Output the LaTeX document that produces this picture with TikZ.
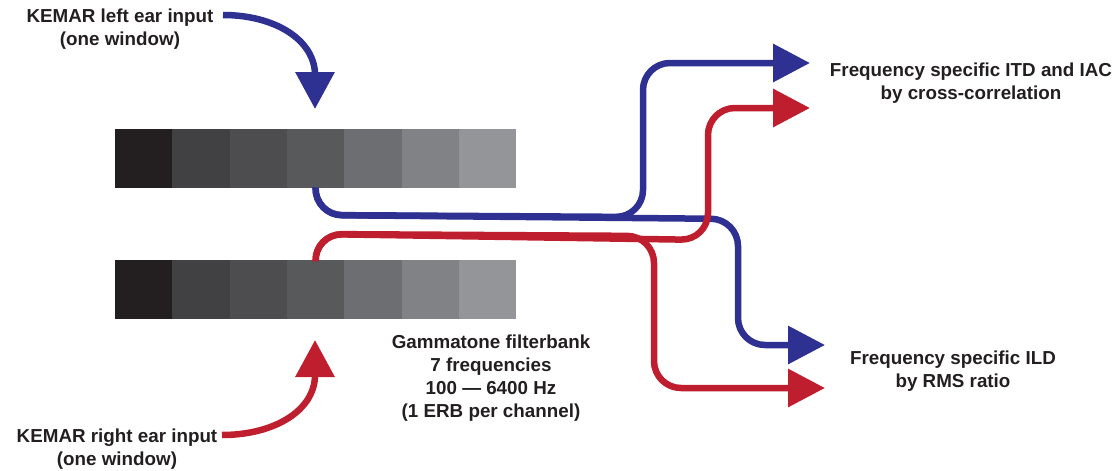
\documentclass[tikz,border=0pt]{standalone}
\usepackage{fontspec}
\setmainfont{Liberation Sans}
\usetikzlibrary{arrows.meta}
\definecolor{kblue}{HTML}{2E3192}
\definecolor{kred}{HTML}{BE1E2D}
\definecolor{ktext}{HTML}{231F20}
\definecolor{g1}{HTML}{231F20}
\definecolor{g2}{HTML}{414042}
\definecolor{g3}{HTML}{4D4D4F}
\definecolor{g4}{HTML}{58595B}
\definecolor{g5}{HTML}{6D6E71}
\definecolor{g6}{HTML}{808285}
\definecolor{g7}{HTML}{939598}
\begin{document}
\begin{tikzpicture}[x=1pt,y=-1pt,
  lbl/.style={font=\fontsize{18.8}{23}\selectfont\bfseries, text=ktext, align=center, inner sep=0pt},
  cell/.style={minimum width=57.4pt, minimum height=58.5pt, inner sep=0pt, outer sep=0pt, draw=none, anchor=north west},
  flow/.style={line width=6.5pt, rounded corners=27pt, -{Triangle[length=37pt,width=37pt]}},
  inarrow/.style={line width=6.5pt, -{Triangle[length=37pt,width=38pt]}}]
\useasboundingbox (0,0) rectangle (1119,471);

% filterbank bars
\foreach \i in {1,...,7}{
  \node[cell, fill=g\i] (L\i) at ({115+57.3*(\i-1)},129) {};
  \node[cell, fill=g\i] (R\i) at ({115+57.3*(\i-1)},260) {};
}

% labels
\node[lbl] (kemarL) at (120,29) {KEMAR left ear input\\(one window)};
\node[lbl] (kemarR) at (117,449) {KEMAR right ear input\\(one window)};
\node[lbl] (gamma) at (491,378) {Gammatone filterbank\\7 frequencies\\100 — 6400 Hz\\(1 ERB per channel)};
\node[lbl] (itd) at (971,83) {Frequency specific ITD and IAC\\by cross-correlation};
\node[lbl] (ild) at (953,371) {Frequency specific ILD\\by RMS ratio};

% input arrows
\coordinate (inLs) at (223,15);
\coordinate (inLt) at (315,109);
\coordinate (inRs) at (222,435);
\coordinate (inRt) at (315,340);
\draw[inarrow, color=kblue] (inLs) .. controls (275,15) and (315,40) .. (315,75) -- (inLt);
\draw[inarrow, color=kred] (inRs) .. controls (275,435) and (315,410) .. (315,375) -- (inRt);

% output arrow tips
\coordinate (tipBU) at (810,63);
\coordinate (tipRU) at (810,108);
\coordinate (tipBD) at (825,345);
\coordinate (tipRD) at (825,388);

% blue routes
\draw[flow, color=kblue] (L4.south) -- (315,215) -- (643,217) -- (643,63) -- (tipBU);
\draw[flow, color=kblue] (L4.south) -- (315,215) -- (738,219) -- (738,345) -- (tipBD);
% red routes
\draw[flow, color=kred] (R4.north) -- (315,234) -- (654,236) -- (654,388) -- (tipRD);
\draw[flow, color=kred] (R4.north) -- (315,234) -- (708,240) -- (708,108) -- (tipRU);
\end{tikzpicture}
\end{document}
